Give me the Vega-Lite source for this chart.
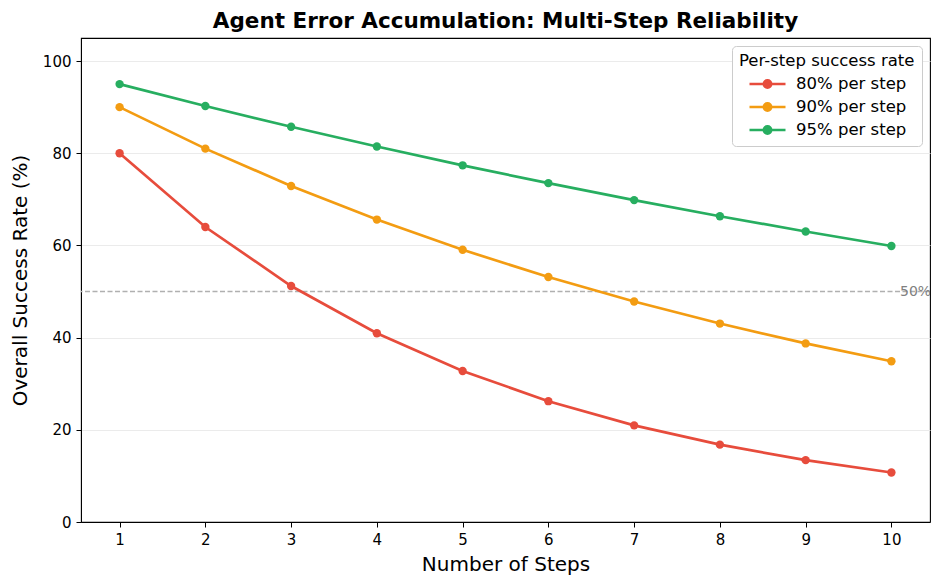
{
  "$schema": "https://vega.github.io/schema/vega-lite/v6.json",
  "width": 849,
  "height": 484,
  "autosize": {"type": "none"},
  "padding": {"left": 81, "top": 38, "right": 15, "bottom": 64},
  "background": "white",
  "title": {
    "text": "Agent Error Accumulation: Multi-Step Reliability",
    "font": "DejaVu Sans",
    "fontSize": 21.5,
    "fontWeight": "bold",
    "color": "black",
    "anchor": "middle",
    "offset": 6
  },
  "config": {
    "font": "DejaVu Sans",
    "view": {"stroke": "black", "strokeWidth": 1.1},
    "axis": {
      "labelFont": "DejaVu Sans",
      "titleFont": "DejaVu Sans",
      "labelFontSize": 15,
      "titleFontSize": 20,
      "titleFontWeight": "normal",
      "labelColor": "black",
      "titleColor": "black",
      "tickColor": "black",
      "domainColor": "black",
      "tickSize": 5,
      "labelPadding": 5
    }
  },
  "datasets": {
    "rates": [
      {"steps": 1, "rate": 80, "series": "80% per step"},
      {"steps": 2, "rate": 64, "series": "80% per step"},
      {"steps": 3, "rate": 51.2, "series": "80% per step"},
      {"steps": 4, "rate": 40.96, "series": "80% per step"},
      {"steps": 5, "rate": 32.77, "series": "80% per step"},
      {"steps": 6, "rate": 26.21, "series": "80% per step"},
      {"steps": 7, "rate": 20.97, "series": "80% per step"},
      {"steps": 8, "rate": 16.78, "series": "80% per step"},
      {"steps": 9, "rate": 13.42, "series": "80% per step"},
      {"steps": 10, "rate": 10.74, "series": "80% per step"},
      {"steps": 1, "rate": 90, "series": "90% per step"},
      {"steps": 2, "rate": 81, "series": "90% per step"},
      {"steps": 3, "rate": 72.9, "series": "90% per step"},
      {"steps": 4, "rate": 65.61, "series": "90% per step"},
      {"steps": 5, "rate": 59.05, "series": "90% per step"},
      {"steps": 6, "rate": 53.14, "series": "90% per step"},
      {"steps": 7, "rate": 47.83, "series": "90% per step"},
      {"steps": 8, "rate": 43.05, "series": "90% per step"},
      {"steps": 9, "rate": 38.74, "series": "90% per step"},
      {"steps": 10, "rate": 34.87, "series": "90% per step"},
      {"steps": 1, "rate": 95, "series": "95% per step"},
      {"steps": 2, "rate": 90.25, "series": "95% per step"},
      {"steps": 3, "rate": 85.74, "series": "95% per step"},
      {"steps": 4, "rate": 81.45, "series": "95% per step"},
      {"steps": 5, "rate": 77.38, "series": "95% per step"},
      {"steps": 6, "rate": 73.51, "series": "95% per step"},
      {"steps": 7, "rate": 69.83, "series": "95% per step"},
      {"steps": 8, "rate": 66.34, "series": "95% per step"},
      {"steps": 9, "rate": 63.02, "series": "95% per step"},
      {"steps": 10, "rate": 59.87, "series": "95% per step"}
    ],
    "threshold": [{"y": 50, "x": 10.1, "label": "50%"}]
  },
  "layer": [
    {
      "data": {"name": "threshold"},
      "mark": {"type": "rule", "color": "#b0b0b0", "strokeDash": [5, 2.5], "strokeWidth": 1.3},
      "encoding": {
        "y": {"field": "y", "type": "quantitative", "scale": {"domain": [0, 105]}}
      }
    },
    {
      "data": {"name": "threshold"},
      "mark": {"type": "text", "color": "gray", "fontSize": 14, "align": "left", "baseline": "middle", "clip": true},
      "encoding": {
        "x": {"field": "x", "type": "quantitative"},
        "y": {"field": "y", "type": "quantitative"},
        "text": {"field": "label"}
      }
    },
    {
      "data": {"name": "rates"},
      "mark": {"type": "line", "strokeWidth": 2.7, "point": {"size": 70, "filled": true, "opacity": 1}},
      "encoding": {
        "x": {
          "field": "steps",
          "type": "quantitative",
          "title": "Number of Steps",
          "scale": {"domain": [0.55, 10.45], "nice": false, "zero": false},
          "axis": {"values": [1, 2, 3, 4, 5, 6, 7, 8, 9, 10], "format": "d", "grid": false, "titlePadding": 7}
        },
        "y": {
          "field": "rate",
          "type": "quantitative",
          "title": "Overall Success Rate (%)",
          "scale": {"domain": [0, 105], "nice": false},
          "axis": {"values": [0, 20, 40, 60, 80, 100], "grid": true, "gridColor": "#ebebeb", "titlePadding": 12}
        },
        "color": {
          "field": "series",
          "type": "nominal",
          "title": "Per-step success rate",
          "scale": {
            "domain": ["80% per step", "90% per step", "95% per step"],
            "range": ["#e74c3c", "#f39c12", "#27ae60"]
          },
          "legend": {
            "orient": "top-right",
            "offset": 8,
            "fillColor": "white",
            "strokeColor": "#cccccc",
            "cornerRadius": 4,
            "padding": 7,
            "titleFontSize": 16.5,
            "titleFontWeight": "normal",
            "titleColor": "black",
            "titlePadding": 4,
            "labelFontSize": 16.5,
            "labelColor": "black",
            "labelOffset": 18,
            "symbolType": "M-2,0L2,0M0.4,0A0.4,0.4,0,1,1,-0.4,0A0.4,0.4,0,1,1,0.4,0Z",
            "symbolStrokeWidth": 2.7,
            "symbolSize": 324,
            "symbolOffset": 18,
            "rowPadding": 3,
            "encode": {
              "symbols": {"update": {"fill": {"scale": "color", "field": "value"}}}
            }
          }
        }
      }
    }
  ]
}
